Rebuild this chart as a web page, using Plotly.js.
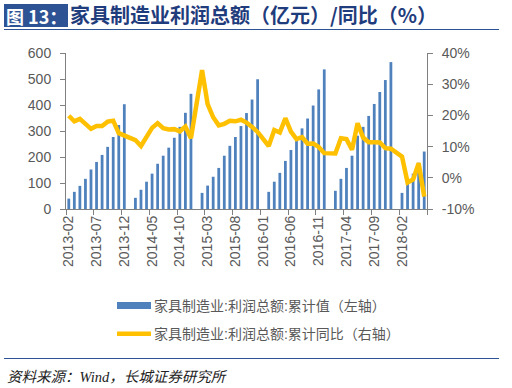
<!DOCTYPE html>
<html>
<head>
<meta charset="utf-8">
<script src="https://cdn.plot.ly/plotly-3.0.1.min.js"></script>
<style>
  html, body { margin: 0; padding: 0; background: #fff; }
  #chart { width: 512px; height: 388px; }
</style>
</head>
<body>
<div id="chart"></div>
<script>
// ---- data ----
const months = [
  '2013-02','2013-03','2013-04','2013-05','2013-06','2013-07','2013-08','2013-09','2013-10','2013-11','2013-12',
  '2014-01','2014-02','2014-03','2014-04','2014-05','2014-06','2014-07','2014-08','2014-09','2014-10','2014-11','2014-12',
  '2015-01','2015-02','2015-03','2015-04','2015-05','2015-06','2015-07','2015-08','2015-09','2015-10','2015-11','2015-12',
  '2016-01','2016-02','2016-03','2016-04','2016-05','2016-06','2016-07','2016-08','2016-09','2016-10','2016-11','2016-12',
  '2017-01','2017-02','2017-03','2017-04','2017-05','2017-06','2017-07','2017-08','2017-09','2017-10','2017-11','2017-12',
  '2018-01','2018-02','2018-03','2018-04','2018-05','2018-06'
];
// 家具制造业:利润总额:累计值 (亿元)
const profitCum = [
  40, 66, 89, 116, 152, 181, 208, 239, 277, 323, 403,
  null, 43, 74, 105, 136, 174, 205, 236, 274, 316, 370, 443,
  null, 62, 90, 124, 158, 205, 243, 277, 319, 369, 421, 499,
  null, 66, 105, 139, 185, 227, 266, 310, 348, 398, 460, 537,
  null, 70, 116, 158, 205, 282, 316, 358, 404, 450, 496, 565,
  null, 62, 98, 136, 178, 221
];
// 家具制造业:利润总额:累计同比 (%)
const profitYoY = [
  19.9, 18.1, 18.9, 17.2, 15.7, 16.6, 16.6, 18.0, 18.3, 14.3, 13.6,
  null, 12.1, 10.2, 13.1, 16.0, 17.5, 15.9, 15.5, 15.6, 14.9, 16.4, 12.7,
  null, 34.5, 23.6, 19.4, 16.8, 17.3, 18.3, 18.1, 18.6, 17.7, 16.3, 14.7,
  null, 10.2, 15.3, 14.5, 19.1, 14.8, 12.4, 13.0, 10.9, 11.0, 9.9, 7.9,
  null, 7.8, 12.7, 12.4, 9.0, 17.5, 12.9, 11.4, 11.4, 11.3, 9.5, 9.3,
  null, 6.8, -1.5, -0.5, 4.7, -6.0
];
const seriesNames = ['家具制造业:利润总额:累计值（左轴）', '家具制造业:利润总额:累计同比（右轴）'];
const leftTicks = [0, 100, 200, 300, 400, 500, 600];
const rightTicks = [-10, 0, 10, 20, 30, 40];
const rightTickLabels = ['-10%', '0%', '10%', '20%', '30%', '40%'];
const titleTag = '图 13：';
const titleText = '家具制造业利润总额（亿元）/同比（%）';
const sourceText = '资料来源：Wind，长城证券研究所';

// ---- layout geometry ----
const W = 512, H = 388, ML = 66, MR = 85, MT = 53, MB = 179;
const PW = W - ML - MR, PH = H - MT - MB;
const px2x = p => (p - ML) / PW;
const py2y = p => (H - MB - p) / PH;

const AX = '#808080';
const TXT = '#595959';
const FONT = 'Liberation Sans, Arial, "Noto Sans CJK SC", sans-serif';

const traces = [
  {
    type: 'bar', x: months, y: profitCum, name: seriesNames[0],
    marker: { color: '#4F81BD' }, yaxis: 'y', legendgroup: 'a'
  },
  {
    type: 'scatter', mode: 'lines', x: months, y: profitYoY, name: seriesNames[1],
    line: { color: '#FFC000', width: 4.5 }, yaxis: 'y2', connectgaps: true,
    legendgroup: 'b'
  }
];

const layout = {
  width: W, height: H,
  margin: { l: ML, r: MR, t: MT, b: MB, pad: 0, autoexpand: false },
  paper_bgcolor: '#ffffff', plot_bgcolor: '#ffffff',
  font: { family: FONT, size: 14, color: TXT },
  bargap: 0.5,
  showlegend: true,
  title: {
    text: titleText,
    font: { family: '"Noto Sans CJK SC", sans-serif', size: 20, color: '#1F3C7C', weight: 'bold' },
    xref: 'container', yref: 'container', x: 70 / W, xanchor: 'left', y: 1 - 16 / H, yanchor: 'middle'
  },
  xaxis: {
    type: 'category', range: [-0.5, months.length - 0.5],
    tickmode: 'linear', tick0: 0, dtick: 5, tickson: 'boundaries',
    ticks: 'outside', ticklen: 5, tickcolor: AX, tickwidth: 1,
    showline: true, linecolor: AX, linewidth: 1,
    showgrid: false, zeroline: false, automargin: false,
    tickangle: -90, tickfont: { size: 14, color: TXT, family: FONT }
  },
  yaxis: {
    range: [0, 600], tickmode: 'array', tickvals: leftTicks,
    ticks: 'outside', ticklen: 5, tickcolor: AX, automargin: false,
    showline: true, linecolor: AX, showgrid: false, zeroline: false,
    tickfont: { size: 14, color: TXT, family: FONT }, ticklabelstandoff: 6
  },
  yaxis2: {
    overlaying: 'y', side: 'right', range: [-10, 40],
    tickmode: 'array', tickvals: rightTicks, ticktext: rightTickLabels,
    ticks: 'outside', ticklen: 5, tickcolor: AX, automargin: false,
    showline: true, linecolor: AX, showgrid: false, zeroline: false,
    tickfont: { size: 14, color: TXT, family: FONT }, ticklabelstandoff: 6
  },
  legend: {
    xref: 'container', yref: 'container', x: 114 / W, y: 1 - 290 / H,
    xanchor: 'left', yanchor: 'top', orientation: 'v',
    font: { size: 14, color: TXT, family: FONT },
    bgcolor: 'rgba(0,0,0,0)', tracegroupgap: 7, traceorder: 'grouped'
  },
  shapes: [
    { type: 'rect', xref: 'paper', yref: 'paper', x0: px2x(4), x1: px2x(68), y0: py2y(27), y1: py2y(4),
      fillcolor: '#2E5395', line: { width: 0 }, layer: 'above' },
    { type: 'line', xref: 'paper', yref: 'paper', x0: px2x(4), x1: px2x(499), y0: py2y(29.5), y1: py2y(29.5),
      line: { color: '#2E5395', width: 1.2 } },
    { type: 'line', xref: 'paper', yref: 'paper', x0: px2x(4), x1: px2x(499), y0: py2y(358.5), y1: py2y(358.5),
      line: { color: '#2E5395', width: 1.2 } }
  ],
  annotations: [
    { text: titleTag, xref: 'paper', yref: 'paper', x: px2x(36), y: py2y(16), xanchor: 'center', yanchor: 'middle',
      showarrow: false, font: { family: '"Noto Sans CJK SC", serif', size: 18, color: '#ffffff', weight: 'bold' } },
    { text: sourceText, xref: 'paper', yref: 'paper', x: px2x(5), y: py2y(377), xanchor: 'left', yanchor: 'middle',
      showarrow: false, font: { family: '"Liberation Serif", "Noto Sans CJK SC", serif', size: 14.5, color: '#222222', style: 'italic' } }
  ]
};

function fixLegendSymbols() {
  const gd = document.getElementById('chart');
  const items = gd.querySelectorAll('.legend .traces');
  if (items.length) {
    items[0].querySelectorAll('.legendpoints path').forEach(p => p.setAttribute('d', 'M17,3.5H-17V-3.5H17Z'));
  }
  gd.querySelectorAll('.legendlines path').forEach(p => p.setAttribute('d', 'M3,0h34'));
}

Plotly.newPlot('chart', traces, layout, { staticPlot: true, displayModeBar: false }).then(() => {
  fixLegendSymbols();
  setTimeout(fixLegendSymbols, 50);
  setTimeout(fixLegendSymbols, 300);
});
</script>
</body>
</html>
